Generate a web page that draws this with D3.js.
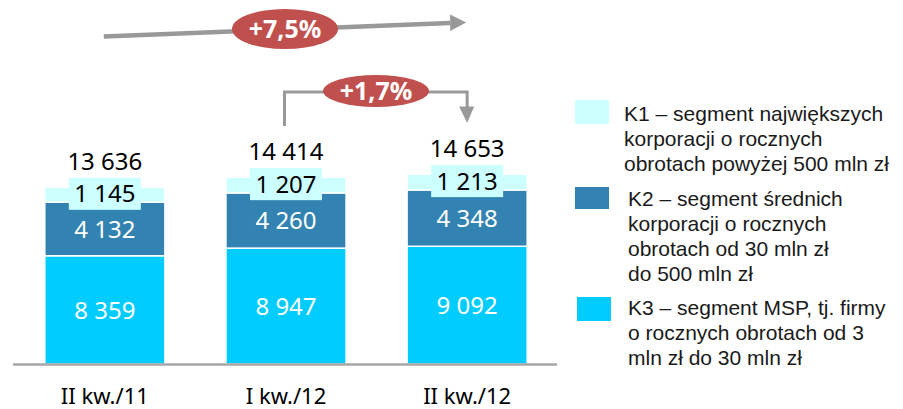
<!DOCTYPE html>
<html>
<head>
<meta charset="utf-8">
<script src="https://cdn.jsdelivr.net/npm/d3@7"></script>
<style>
  body { margin: 0; background: #fff; }
  svg text { font-family: "Noto Sans", sans-serif; }
  svg text.legend { font-family: "Liberation Sans", Arial, sans-serif; }
</style>
</head>
<body>
<div id="canvas"></div>
<script>
// quarters
let quarters = ["II kw./11", "I kw./12", "II kw./12"]
// segment values (tys.)
let k3 = [8359, 8947, 9092]
let k2 = [4132, 4260, 4348]
let k1 = [1145, 1207, 1213]
let totals = [13636, 14414, 14653]
let growthYear = "+7,5%"
let growthQuarter = "+1,7%"

let legendItems = [
  { key: "k1", lines: ["K1 – segment największych", "korporacji o rocznych", "obrotach powyżej 500 mln zł"] },
  { key: "k2", lines: ["K2 – segment średnich", "korporacji o rocznych", "obrotach od 30 mln zł", "do 500 mln zł"] },
  { key: "k3", lines: ["K3 – segment MSP, tj. firmy", "o rocznych obrotach od 3", "mln zł do 30 mln zł"] }
]

let colors = { k1: "#CCFFFF", k2: "#3383B2", k3: "#00CCFF" }

window.onload = function () { setup() }

function fmt(v) {
  return d3.format(",")(v).replace(/,/g, " ")
}

function setup() {
  let svg = d3.select("#canvas")
    .append("svg")
    .attr("width", 903)
    .attr("height", 409)

  let x = d3.scaleBand()
    .domain(quarters)
    .range([14, 558])
    .paddingInner(0.337)
    .paddingOuter(0.17)

  let y = d3.scaleLinear()
    .domain([0, 15000])
    .range([364, 169.75])

  // stack the data
  let rows = quarters.map((q, i) => ({ q: q, k3: k3[i], k2: k2[i], k1: k1[i], total: totals[i] }))
  let stack = d3.stack().keys(["k3", "k2", "k1"])(rows)

  svg.append("g")
    .selectAll("g")
    .data(stack)
    .join("g")
    .attr("fill", d => colors[d.key])
    .selectAll("rect")
    .data(d => d)
    .join("rect")
    .attr("x", d => x(d.data.q))
    .attr("y", d => y(d[1]))
    .attr("width", x.bandwidth())
    .attr("height", d => y(d[0]) - y(d[1]))
    .attr("stroke", "#fff")
    .attr("stroke-width", 1.5)

  // baseline
  svg.append("line")
    .attr("x1", 13).attr("x2", 557)
    .attr("y1", y(0) + 0.5).attr("y2", y(0) + 0.5)
    .attr("stroke", "#A6A6A6")
    .attr("stroke-width", 2.5)

  let cx = q => x(q) + x.bandwidth() / 2

  // K3 and K2 labels
  stack.filter(s => s.key != "k1").forEach(s => {
    svg.append("g")
      .selectAll("text")
      .data(s)
      .join("text")
      .attr("x", d => cx(d.data.q))
      .attr("y", d => (y(d[0]) + y(d[1])) / 2)
      .attr("dy", "0.36em")
      .attr("text-anchor", "middle")
      .attr("fill", "#fff")
      .style("font-size", "24px")
      .text(d => fmt(d.data[s.key]))
  })

  // K1 labels on boxes
  let k1s = stack[2]
  let k1g = svg.append("g")
    .selectAll("g")
    .data(k1s)
    .join("g")
    .attr("transform", d => `translate(${cx(d.data.q)},${(y(d[0]) + y(d[1])) / 2 - 1})`)
  k1g.append("rect")
    .attr("x", -36).attr("y", -16)
    .attr("width", 72).attr("height", 32)
    .attr("fill", colors.k1)
  k1g.append("text")
    .attr("dy", "0.36em")
    .attr("text-anchor", "middle")
    .attr("fill", "#000")
    .style("font-size", "24px")
    .text(d => fmt(d.data.k1))

  // totals
  svg.append("g")
    .selectAll("text")
    .data(rows)
    .join("text")
    .attr("x", d => cx(d.q))
    .attr("y", d => y(d.total) - 26)
    .attr("dy", "0.36em")
    .attr("text-anchor", "middle")
    .attr("fill", "#000")
    .style("font-size", "24px")
    .text(d => fmt(d.total))

  // category labels
  svg.append("g")
    .selectAll("text")
    .data(quarters)
    .join("text")
    .attr("x", d => cx(d))
    .attr("y", 396)
    .attr("dy", "0.36em")
    .attr("text-anchor", "middle")
    .attr("fill", "#000")
    .style("font-size", "22px")
    .text(d => d)

  // year-on-year arrow
  let gray = "#999999"
  let ax0 = cx(quarters[0]) - 1, ax1 = cx(quarters[2]) - 17
  svg.append("line")
    .attr("x1", ax0).attr("y1", 36.5)
    .attr("x2", ax1).attr("y2", 23)
    .attr("stroke", gray).attr("stroke-width", 4.5)
  svg.append("path")
    .attr("d", `M${ax1},14.5 L${ax1 + 16},22.5 L${ax1},31 Z`)
    .attr("fill", gray)
  badge(svg, 285, 29, 53, 20, growthYear)

  // quarter-on-quarter bracket
  let bx0 = cx(quarters[1]) - 1.5, bx1 = cx(quarters[2])
  svg.append("path")
    .attr("d", `M${bx0},126 V92 H${bx1} V108`)
    .attr("fill", "none")
    .attr("stroke", gray).attr("stroke-width", 3)
  svg.append("path")
    .attr("d", `M${bx1 - 8},106.5 L${bx1 + 7},106.5 L${bx1},123 Z`)
    .attr("fill", gray)
  badge(svg, 376, 91, 53, 16, growthQuarter)

  // legend
  let lg = svg.append("g")
  let tops = [100, 187, 297]
  let textX = [624, 628, 628]
  let firstLine = [113, 198, 307]
  legendItems.forEach((item, i) => {
    lg.append("rect")
      .attr("x", 575 + (i == 2 ? 2 : 0)).attr("y", tops[i])
      .attr("width", 34).attr("height", i == 1 ? 22 : 24)
      .attr("fill", colors[item.key])
    lg.append("g")
      .selectAll("text")
      .data(item.lines)
      .join("text")
      .attr("class", "legend")
      .attr("x", textX[i])
      .attr("y", (d, j) => firstLine[i] + j * 25)
      .attr("dy", "0.36em")
      .attr("fill", "#1a1a1a")
      .style("font-size", "21px")
      .text(d => d)
  })
}

function badge(svg, x, y, rx, ry, label) {
  svg.append("ellipse")
    .attr("cx", x).attr("cy", y)
    .attr("rx", rx).attr("ry", ry)
    .attr("fill", "#C0504D")
  svg.append("text")
    .attr("x", x).attr("y", y)
    .attr("dy", "0.36em")
    .attr("text-anchor", "middle")
    .attr("fill", "#fff")
    .style("font-size", "25px")
    .style("font-weight", "bold")
    .text(label)
}
</script>
</body>
</html>
